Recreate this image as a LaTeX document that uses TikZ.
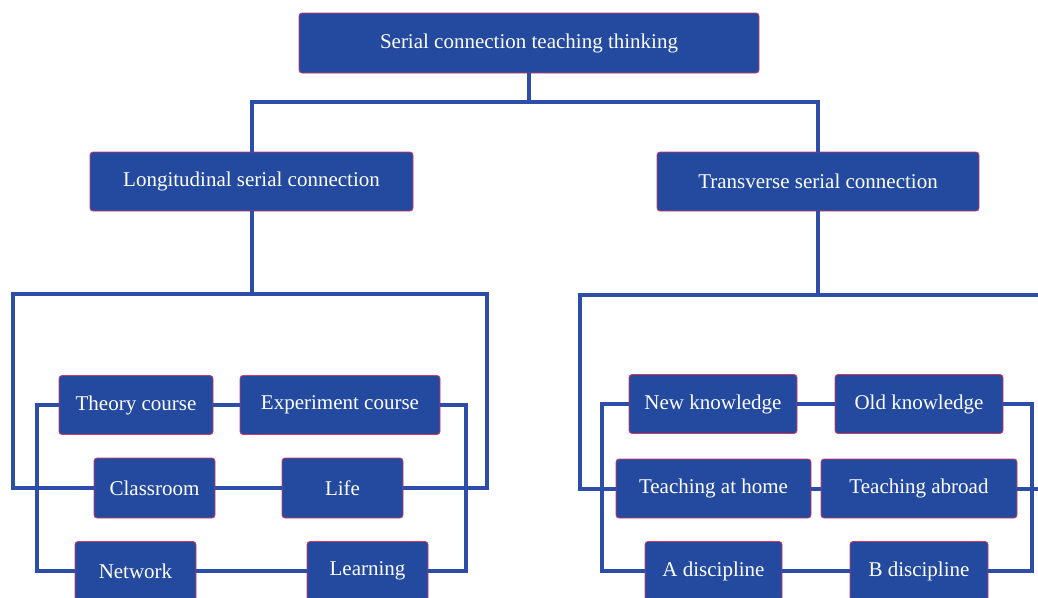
\documentclass[tikz,border=0pt]{standalone}
\usepackage{fontspec}
\setmainfont{Liberation Serif}
\usepackage{tikz}
\usetikzlibrary{positioning,calc}
\definecolor{boxblue}{HTML}{234A9F}
\definecolor{wireblue}{HTML}{2D4EA8}
\definecolor{edgered}{HTML}{D9365F}

\begin{document}
\begin{tikzpicture}[
  x=1pt,y=-1pt,
  every node/.append style={font=\fontsize{21}{25}\selectfont},
  blk/.style={draw=edgered,line width=0.8pt,fill=boxblue,text=white,rounded corners=3pt,inner sep=0pt,minimum width=#1,minimum height=59pt},
  blk/.default=121pt,
  wire/.style={draw=wireblue,line width=4pt}]
\useasboundingbox (0,0) rectangle (1038,597);
\clip (0,0) rectangle (1038,597);
% ---- top of the tree
\node[blk=460pt,minimum height=60pt] (root) at (529,43) {Serial connection teaching thinking};
\node[blk=323pt] (long) at (251.5,181.5) {Longitudinal serial connection};
\node[blk=322pt] (trans) at (818,181.5) {Transverse serial connection};
\coordinate (tbus) at (529,102);
\draw[wire] (root.south) -- (tbus) -| (long.north);
\draw[wire] (tbus) -| (trans.north);
% ---- left group
\node[blk=154pt] (theory) at (136,405) {Theory course};
\node[blk=200pt] (exper) at (340,405) {Experiment course};
\node[blk,minimum height=60pt] (class) at (154.5,488) {Classroom};
\node[blk,minimum height=60pt] (life) at (342.5,488) {Life};
\node[blk] (net) at (135.5,571) {Network};
\node[blk] (learn) at (367.5,571) {Learning};
\coordinate (lbusL) at (13,294); \coordinate (lbusR) at (487,294);
\coordinate (lrowL) at (13,488); \coordinate (lrowR) at (487,488);
\coordinate (linTL) at (37,405); \coordinate (linBL) at (37,571);
\coordinate (linTR) at (466,405); \coordinate (linBR) at (466,571);
\draw[wire] (long.south) |- (lbusL) -- (lrowL) -- (class.west);
\draw[wire] (long.south) |- (lbusR) -- (lrowR) -- (life.east);
\draw[wire] (theory.west) -- (linTL) -- (linBL) -- (net.west);
\draw[wire] (exper.east) -- (linTR) -- (linBR) -- (learn.east);
\draw[wire] (theory) -- (exper);
\draw[wire] (class) -- (life);
\draw[wire] (net) -- (learn);
% ---- right group
\node[blk=168pt] (newk) at (713,404) {New knowledge};
\node[blk=168pt] (oldk) at (919,404) {Old knowledge};
\node[blk=195pt] (home) at (713.5,488.5) {Teaching at home};
\node[blk=196pt] (abroad) at (919,488.5) {Teaching abroad};
\node[blk=137pt] (adisc) at (713.5,571) {A discipline};
\node[blk=138pt] (bdisc) at (919,571) {B discipline};
\coordinate (rbusL) at (580,295); \coordinate (rbusR) at (1052,295);
\coordinate (rrowL) at (580,488.5); \coordinate (rrowR) at (1052,488.5);
\coordinate (rinTL) at (602,404); \coordinate (rinBL) at (602,571);
\coordinate (rinTR) at (1032,404); \coordinate (rinBR) at (1032,571);
\draw[wire] (trans.south) |- (rbusL) -- (rrowL) -- (home.west);
\draw[wire] (trans.south) |- (rbusR) -- (rrowR) -- (abroad.east);
\draw[wire] (newk.west) -- (rinTL) -- (rinBL) -- (adisc.west);
\draw[wire] (oldk.east) -- (rinTR) -- (rinBR) -- (bdisc.east);
\draw[wire] (newk) -- (oldk);
\draw[wire] (home) -- (abroad);
\draw[wire] (adisc) -- (bdisc);
\end{tikzpicture}
\end{document}
